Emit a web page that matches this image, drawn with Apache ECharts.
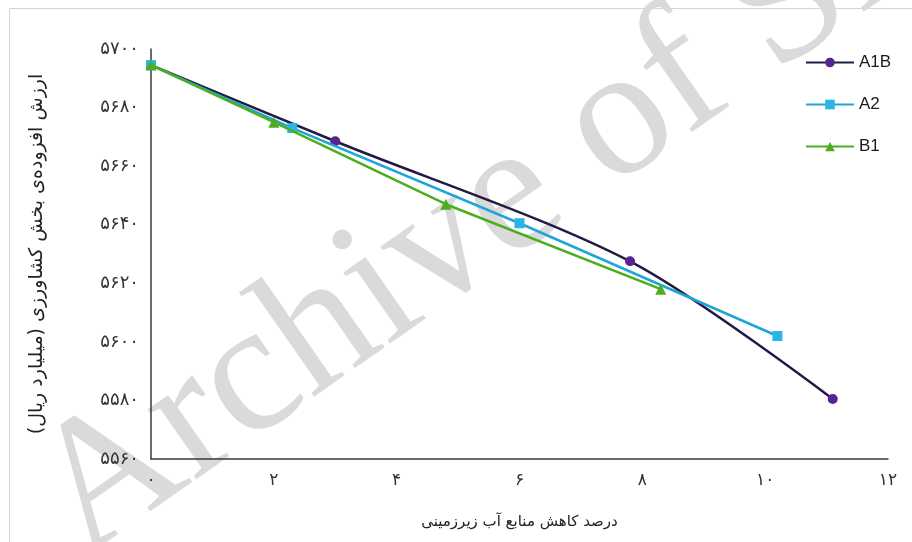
<!DOCTYPE html>
<html>
<head>
<meta charset="utf-8">
<script src="https://cdn.jsdelivr.net/npm/echarts@6/dist/echarts.min.js"></script>
<style>
  html, body { margin: 0; padding: 0; background: #ffffff; }
  #chart { width: 912px; height: 542px; }
</style>
</head>
<body>
<div id="chart"></div>
<script>
// Scenario series: [groundwater reduction %, agricultural value added (billion rial)]
const seriesNames = ['A1B', 'A2', 'B1'];
const dataA1B = [[0, 5694.5], [3.0, 5668.5], [7.8, 5627.5], [11.1, 5580.5]];
const dataA2  = [[0, 5694.5], [2.3, 5673.0], [6.0, 5640.5], [10.2, 5602.0]];
const dataB1  = [[0, 5694.5], [2.0, 5675.0], [4.8, 5647.0], [8.3, 5618.0]];

const xTicks = { min: 0, max: 12, step: 2 };
const yTicks = { min: 5560, max: 5700, step: 20 };

const xTitle = 'درصد کاهش منابع آب زیرزمینی';
const yTitle = '\u200Fارزش افزوده\u200Cی بخش کشاورزی (میلیارد ریال)\u200F';
const watermark = 'Archive of SID';

// Western digits -> Persian digits
const faDigits = '۰۱۲۳۴۵۶۷۸۹';
function toFa(v) {
  return String(v).replace(/[0-9]/g, d => faDigits[+d]);
}

const faFont = '"DejaVu Sans"';
const chart = echarts.init(document.getElementById('chart'), null, { renderer: 'canvas' });

chart.setOption({
  animation: false,
  backgroundColor: '#ffffff',
  graphic: [
    {
      type: 'rect',
      z: -10,
      shape: { x: 9.5, y: 8.5, width: 1000, height: 1000 },
      style: { fill: 'none', stroke: '#d4d4d4', lineWidth: 1 }
    },
    {
      type: 'text',
      z: -5,
      x: 56,
      y: 518,
      rotation: 35 * Math.PI / 180,
      style: {
        text: watermark,
        font: '185px "Liberation Serif"',
        fill: '#dadada',
        textAlign: 'left',
        textVerticalAlign: 'middle'
      }
    }
  ],
  grid: { left: 151, right: 24, top: 49, bottom: 83, containLabel: false },
  legend: {
    orient: 'vertical',
    left: 800,
    top: 49,
    itemWidth: 48,
    itemHeight: 12,
    itemGap: 25,
    textStyle: { fontFamily: '"Liberation Sans"', fontSize: 17, color: '#1a1a1a' },
    data: seriesNames
  },
  xAxis: {
    type: 'value',
    min: xTicks.min,
    max: xTicks.max,
    interval: xTicks.step,
    name: xTitle,
    nameLocation: 'middle',
    nameGap: 56,
    nameTextStyle: { fontFamily: faFont, fontSize: 15, color: '#222' },
    axisLine: { show: true, lineStyle: { color: '#3a3a3a', width: 1.5 } },
    axisTick: { show: false },
    splitLine: { show: false },
    axisLabel: {
      margin: 13,
      fontFamily: faFont,
      fontSize: 17,
      color: '#333',
      formatter: v => toFa(v)
    }
  },
  yAxis: {
    type: 'value',
    min: yTicks.min,
    max: yTicks.max,
    interval: yTicks.step,
    name: yTitle,
    nameLocation: 'middle',
    nameGap: 104,
    nameTextStyle: { fontFamily: faFont, fontSize: 19, color: '#222' },
    axisLine: { show: true, lineStyle: { color: '#3a3a3a', width: 1.5 } },
    axisTick: { show: false },
    splitLine: { show: false },
    axisLabel: {
      margin: 12,
      fontFamily: faFont,
      fontSize: 18,
      color: '#333',
      formatter: v => toFa(v)
    }
  },
  series: [
    {
      name: 'A1B',
      type: 'line',
      data: dataA1B,
      smooth: 0.3,
      symbol: 'circle',
      symbolSize: 10,
      lineStyle: { color: '#231b45', width: 2.5 },
      itemStyle: { color: '#56248c' },
      z: 2
    },
    {
      name: 'A2',
      type: 'line',
      data: dataA2,
      symbol: 'rect',
      symbolSize: 10,
      lineStyle: { color: '#1ea6d6', width: 2.5 },
      itemStyle: { color: '#2bb5e6' },
      z: 3
    },
    {
      name: 'B1',
      type: 'line',
      data: dataB1,
      symbol: 'triangle',
      symbolSize: 11,
      lineStyle: { color: '#4cae1c', width: 2.5 },
      itemStyle: { color: '#4cae1c' },
      z: 4
    }
  ]
});
</script>
</body>
</html>
